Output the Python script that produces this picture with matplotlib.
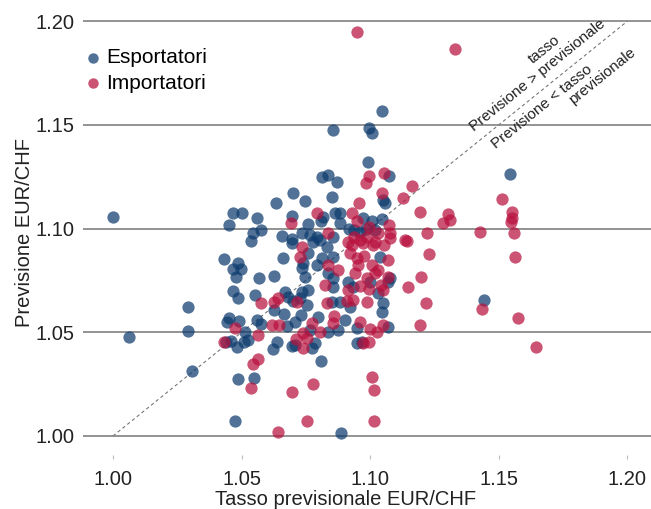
import matplotlib
matplotlib.use("Agg")
import matplotlib.pyplot as plt

# Esportatori (tasso previsionale, previsione)
exp_x = [1.0000, 1.0062, 1.0292, 1.0292, 1.0307, 1.0474, 1.0486, 1.0548, 1.0886, 1.1046,
         1.0855, 1.0995, 1.1007, 1.0991, 1.1544, 1.1442, 1.0700, 1.0634, 1.0467, 1.0502,
         1.0560, 1.0451, 1.0696, 1.0575, 1.0544, 1.0537, 1.0657, 1.0696, 1.0696, 1.0661,
         1.0432, 1.0486, 1.0467, 1.0498, 1.0478, 1.0568, 1.0626, 1.0467, 1.0486, 1.0552,
         1.0669, 1.0680, 1.0700, 1.0626, 1.0665, 1.0451, 1.0443, 1.0490, 1.0560, 1.0575,
         1.0677, 1.0708, 1.0513, 1.0439, 1.0459, 1.0482, 1.0509, 1.0525, 1.0638, 1.0622,
         1.0696, 1.0809, 1.0813, 1.0836, 1.0871, 1.1073, 1.0851, 1.0747, 1.1050, 1.1058,
         1.0816, 1.0809, 1.0758, 1.0863, 1.0883, 1.0883, 1.0972, 1.1007, 1.1046, 1.0918,
         1.0937, 1.0960, 1.0984, 1.1019, 1.0735, 1.0766, 1.0793, 1.0778, 1.0805, 1.0855,
         1.0832, 1.0758, 1.1038, 1.0813, 1.0855, 1.0739, 1.0793, 1.0735, 1.0747, 1.0836,
         1.0855, 1.0914, 1.0999, 1.1077, 1.0758, 1.0735, 1.0855, 1.0933, 1.1030, 1.1069,
         1.0727, 1.0754, 1.0851, 1.0883, 1.0921, 1.1050, 1.1046, 1.0902, 1.0797, 1.0731,
         1.0875, 1.0949, 1.1069, 1.0836, 1.0766, 1.0785, 1.0774, 1.0708, 1.0949, 1.0968]
exp_y = [1.1056, 1.0477, 1.0622, 1.0506, 1.0313, 1.0072, 1.0275, 1.0280, 1.0014, 1.1567,
         1.1476, 1.1485, 1.1461, 1.1321, 1.1263, 1.0656, 1.1172, 1.1124, 1.1075, 1.1075,
         1.1051, 1.1017, 1.1061, 1.0993, 1.0979, 1.0940, 1.0964, 1.0950, 1.0931, 1.0858,
         1.0853, 1.0834, 1.0805, 1.0805, 1.0767, 1.0762, 1.0772, 1.0699, 1.0665, 1.0680,
         1.0694, 1.0670, 1.0651, 1.0608, 1.0588, 1.0569, 1.0550, 1.0555, 1.0559, 1.0540,
         1.0530, 1.0550, 1.0501, 1.0453, 1.0458, 1.0429, 1.0453, 1.0463, 1.0453, 1.0420,
         1.0434, 1.0362, 1.1249, 1.1259, 1.1225, 1.1254, 1.1152, 1.1133, 1.1138, 1.1124,
         1.1056, 1.1037, 1.1022, 1.1075, 1.1075, 1.1027, 1.1051, 1.1037, 1.1046, 1.0998,
         1.0993, 1.0984, 1.0998, 1.0993, 1.0979, 1.0969, 1.0960, 1.0935, 1.0945, 1.0960,
         1.0911, 1.0882, 1.0863, 1.0858, 1.0863, 1.0834, 1.0825, 1.0810, 1.0767, 1.0786,
         1.0762, 1.0743, 1.0743, 1.0762, 1.0704, 1.0694, 1.0718, 1.0718, 1.0690, 1.0743,
         1.0665, 1.0632, 1.0646, 1.0646, 1.0622, 1.0641, 1.0598, 1.0559, 1.0574, 1.0583,
         1.0511, 1.0521, 1.0526, 1.0501, 1.0511, 1.0448, 1.0424, 1.0439, 1.0448, 1.0453]

# Importatori
imp_x = [1.0692, 1.0727, 1.0474, 1.0575, 1.0626, 1.0642, 1.0618, 1.0645, 1.0432, 1.0564,
         1.0712, 1.0564, 1.0544, 1.0537, 1.0696, 1.0642, 1.0778, 1.0754, 1.0995, 1.0984,
         1.1054, 1.0956, 1.1046, 1.1128, 1.0793, 1.0929, 1.0949, 1.0995, 1.1073, 1.1030,
         1.1077, 1.0836, 1.0914, 1.0937, 1.0960, 1.0988, 1.1019, 1.1054, 1.1077, 1.1135,
         1.0735, 1.0929, 1.0972, 1.1011, 1.0921, 1.0949, 1.0976, 1.1069, 1.0836, 1.0875,
         1.0953, 1.1007, 1.1030, 1.0941, 1.0988, 1.1019, 1.1069, 1.0824, 1.0914, 1.0960,
         1.0995, 1.1050, 1.1042, 1.1147, 1.0715, 1.0832, 1.0910, 1.0933, 1.0988, 1.0859,
         1.0774, 1.0855, 1.0960, 1.0999, 1.1026, 1.1050, 1.0805, 1.0739, 1.0754, 1.0739,
         1.0972, 1.0995, 1.1007, 1.1015, 1.1015, 1.0949, 1.1330, 1.1163, 1.1512, 1.1194,
         1.1303, 1.1310, 1.1283, 1.1551, 1.1551, 1.1547, 1.1427, 1.1559, 1.1221, 1.1143,
         1.1229, 1.1563, 1.1198, 1.1217, 1.1435, 1.1575, 1.1194, 1.1645]
imp_y = [1.1027, 1.0863, 1.0521, 1.0641, 1.0646, 1.0665, 1.0535, 1.0535, 1.0453, 1.0487,
         1.0468, 1.0371, 1.0347, 1.0231, 1.0212, 1.0019, 1.0251, 1.0072, 1.1254, 1.1220,
         1.1268, 1.1124, 1.1172, 1.1148, 1.1075, 1.1075, 1.1037, 1.1008, 1.1017, 1.0979,
         1.0979, 1.0979, 1.0935, 1.0960, 1.0945, 1.0960, 1.0935, 1.0921, 1.0955, 1.0945,
         1.0911, 1.0921, 1.0931, 1.0921, 1.0882, 1.0858, 1.0868, 1.0849, 1.0825, 1.0800,
         1.0825, 1.0825, 1.0800, 1.0786, 1.0762, 1.0786, 1.0767, 1.0728, 1.0704, 1.0723,
         1.0709, 1.0704, 1.0728, 1.0718, 1.0646, 1.0641, 1.0651, 1.0656, 1.0646, 1.0579,
         1.0545, 1.0545, 1.0550, 1.0516, 1.0501, 1.0535, 1.0501, 1.0497, 1.0473, 1.0424,
         1.0448, 1.0453, 1.0284, 1.0222, 1.0072, 1.1948, 1.1866, 1.1205, 1.1143, 1.1080,
         1.1070, 1.1041, 1.1027, 1.1080, 1.1051, 1.1032, 1.0984, 1.0979, 1.0979, 1.0940,
         1.0878, 1.0863, 1.0767, 1.0641, 1.0612, 1.0569, 1.0535, 1.0429]

xticks = [1.00, 1.05, 1.10, 1.15, 1.20]
yticks = [1.00, 1.05, 1.10, 1.15, 1.20]
series_labels = ["Esportatori", "Importatori"]

plt.rcParams['font.family'] = ['Liberation Sans', 'DejaVu Sans']

W, H = 651, 509
fig = plt.figure(figsize=(W / 100, H / 100), dpi=100)
ax_l, ax_r, ax_t, ax_b = 83, 651, 10, 455
ax = fig.add_axes([ax_l / W, 1 - ax_b / H, (ax_r - ax_l) / W, (ax_b - ax_t) / H])

blue = '#0e3c6e'
red = '#b8113d'

ax.plot([1.0, 1.2], [1.0, 1.2], color='#777777', lw=0.8, ls=(0, (3, 2.5)), zorder=1)
ax.scatter(exp_x, exp_y, s=78, color=blue, alpha=0.72, linewidths=0, label=series_labels[0], zorder=3)
ax.scatter(imp_x, imp_y, s=78, color=red, alpha=0.72, linewidths=0, label=series_labels[1], zorder=3)

ax.set_xlim(0.98834, 1.20918)
ax.set_ylim(0.99083, 1.2054)
ax.set_xticks(xticks)
ax.set_yticks(yticks)
ax.set_xticklabels([f"{v:.2f}" for v in xticks])
ax.set_yticklabels([f"{v:.2f}" for v in yticks])
ax.yaxis.grid(True, color='#8a8a8a', lw=1.3)
ax.set_axisbelow(True)
for s in ax.spines.values():
    s.set_visible(False)
ax.tick_params(axis='y', length=0, pad=6, labelsize=14.5, labelcolor='#222222')
ax.tick_params(axis='x', length=3, width=0.8, color='#bbbbbb', pad=8, labelsize=14.5, labelcolor='#222222')

ax.set_xlabel("Tasso previsionale EUR/CHF", fontsize=14.5, color='#222222')
ax.xaxis.set_label_coords(0.463, -0.078)
ax.set_ylabel("Previsione EUR/CHF", fontsize=14.5, color='#222222')
ax.yaxis.set_label_coords(-0.086, 0.5)

leg = ax.legend(loc='upper left', bbox_to_anchor=((83 - ax_l) / (ax_r - ax_l), (ax_b - 48) / (ax_b - ax_t)),
                frameon=False, fontsize=15, handletextpad=0.1, borderpad=0, borderaxespad=0,
                labelspacing=0.32, markerscale=0.85, handlelength=1.0)

tkw = dict(rotation=45, transform_rotates_text=True, rotation_mode='anchor',
           ha='center', va='center', fontsize=11, color='#222222')
ax.text(1.1652, 1.1741, "Previsione > previsionale", **tkw)
ax.text(1.1676, 1.1861, "tasso", **tkw)
ax.text(1.1668, 1.1586, "Previsione < tasso", **tkw)
ax.text(1.1901, 1.1736, "previsionale", **tkw)

fig.savefig("out.png", dpi=100)
